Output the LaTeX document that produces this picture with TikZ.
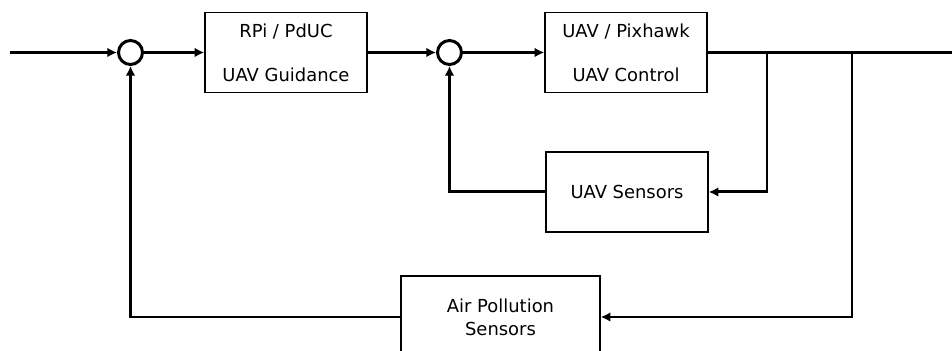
\documentclass[tikz,border=0pt]{standalone}
\usepackage{fontspec}
\setmainfont{DejaVu Sans}
\usetikzlibrary{arrows.meta}
\begin{document}
\begin{tikzpicture}[>={Latex[length=5.5pt,width=5.5pt]},
  blk/.style={draw,line width=0.85pt,minimum width=3.24cm,minimum height=1.6cm,align=center,font=\fontsize{10.2}{12.5}\selectfont},
  sum/.style={draw,circle,line width=1.7pt,minimum size=0.48cm,inner sep=0pt},
  wire/.style={line width=1.7pt}]
\useasboundingbox (0,0) rectangle (19.04,7.02);

\node[sum](s1) at (2.61,5.97) {};
\node[blk](g) at (5.72,5.97) {RPi / PdUC\\[12.5pt]UAV Guidance};
\node[sum](s2) at (8.99,5.97) {};
\node[blk](c) at (12.52,5.97) {UAV / Pixhawk\\[12.5pt]UAV Control};
\node[blk](us) at (12.54,3.18) {UAV Sensors};
\node[blk,minimum width=3.98cm,minimum height=1.64cm,font=\fontsize{10.2}{13}\selectfont](ap) at (10.01,0.68) {Air Pollution\\Sensors};

\coordinate (in) at (0.2,5.97);
\coordinate (out) at (19.04,5.97);
\coordinate (b1) at (15.34,5.97);
\coordinate (b2) at (17.04,5.97);

\draw[wire,->] (in) -- (s1);
\draw[wire,->] (s1) -- (g);
\draw[wire,->] (g) -- (s2);
\draw[wire,->] (s2) -- (c);
\draw[wire] (c) -- (out);

% inner loop
\draw[wire,->] (b1) |- (us.east);
\draw[wire,->] (us.west) -| (s2.south);

% outer loop
\draw[wire,->] (b2) |- (ap.east);
\draw[wire,->] (ap.west) -| (s1.south);

\end{tikzpicture}
\end{document}
